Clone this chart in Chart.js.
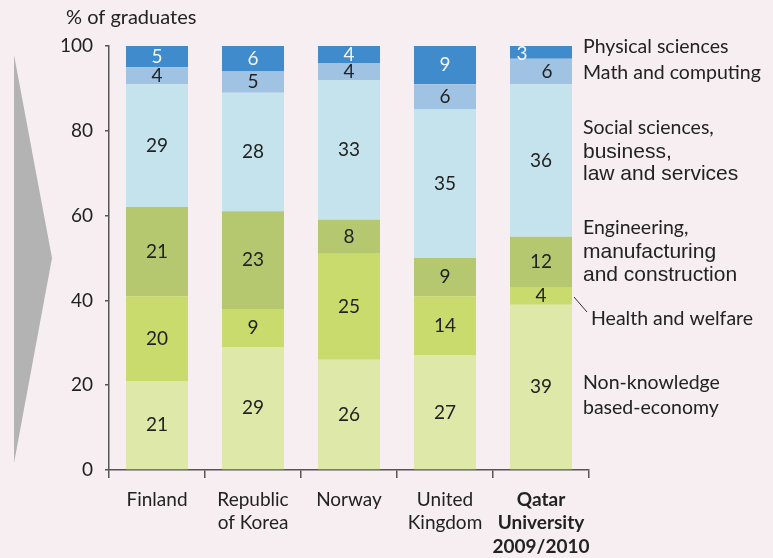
<!DOCTYPE html>
<html>
<head>
<meta charset="utf-8">
<script src="https://cdn.jsdelivr.net/npm/chart.js@4.4.1/dist/chart.umd.min.js"></script>
<style>
  html, body { margin: 0; padding: 0; background: #f6eef0; }
  #wrap { width: 773px; height: 558px; position: relative; }
</style>
</head>
<body>
<div id="wrap"><canvas id="chart"></canvas></div>
<script>
const categories = [['Finland'], ['Republic', 'of Korea'], ['Norway'], ['United', 'Kingdom'], ['Qatar', 'University', '2009/2010']];
const nonKnowledge = [21, 29, 26, 27, 39];
const health = [20, 9, 25, 14, 4];
const engineering = [21, 23, 8, 9, 12];
const social = [29, 28, 33, 35, 36];
const mathComputing = [4, 5, 4, 6, 6];
const physical = [5, 6, 4, 9, 3];
const yTicks = [0, 20, 40, 60, 80, 100];

const FONT = 'Lato, "Noto Sans", sans-serif';
const ARIAL = '"Liberation Sans", Arial, sans-serif';

const series = [
  { label: 'Non-knowledge based-economy', data: nonKnowledge, color: '#dde8a9', text: '#222' },
  { label: 'Health and welfare', data: health, color: '#c8db6c', text: '#222' },
  { label: 'Engineering, manufacturing and construction', data: engineering, color: '#b5c86f', text: '#222' },
  { label: 'Social sciences, business, law and services', data: social, color: '#c5e3ec', text: '#222' },
  { label: 'Math and computing', data: mathComputing, color: '#a0c3e3', text: '#222' },
  { label: 'Physical sciences', data: physical, color: '#3f8bcb', text: '#f2f6fb' }
];

// small nudges for the crowded labels in the last bar
const labelNudge = { '5-4': [-19, 2], '4-4': [6, 0] };

const bgPlugin = {
  id: 'bg',
  beforeDraw(chart) {
    const c = chart.ctx;
    c.save();
    c.fillStyle = '#f6eef0';
    c.fillRect(0, 0, chart.width, chart.height);
    // grey arrow shape on the left
    c.fillStyle = '#b3b3b3';
    c.beginPath();
    c.moveTo(14, 55);
    c.lineTo(52, 258);
    c.lineTo(14, 463);
    c.closePath();
    c.fill();
    c.restore();
  }
};

const labelPlugin = {
  id: 'labels',
  afterDatasetsDraw(chart) {
    const c = chart.ctx;
    c.save();
    c.font = '19px ' + FONT;
    c.textAlign = 'center';
    c.textBaseline = 'middle';
    chart.data.datasets.forEach((ds, di) => {
      chart.getDatasetMeta(di).data.forEach((bar, i) => {
        const n = labelNudge[di + '-' + i] || [0, 0];
        c.fillStyle = series[di].text;
        c.fillText(String(ds.data[i]), bar.x + n[0], (bar.y + bar.base) / 2 + n[1]);
      });
    });

    // axis title
    c.fillStyle = '#222';
    c.textAlign = 'left';
    c.font = '20px ' + FONT;
    c.fillText('% of graduates', 66, 18);

    // legend on the right
    const lx = 583;
    const lines = [
      ['Physical sciences', 47, FONT, lx],
      ['Math and computing', 73, FONT, lx],
      ['Social sciences,', 128, FONT, lx],
      ['business,', 152, ARIAL, lx],
      ['law and services', 174, ARIAL, lx],
      ['Engineering,', 228, FONT, lx],
      ['manufacturing', 252, ARIAL, lx],
      ['and construction', 275, ARIAL, lx],
      ['Health and welfare', 319, FONT, 591],
      ['Non-knowledge', 383, FONT, lx],
      ['based-economy', 408, FONT, lx]
    ];
    lines.forEach(([t, y, f, x]) => {
      c.font = (f === ARIAL ? '21px ' : '19.5px ') + f;
      c.fillText(t, x, y);
    });
    // leader line to Health and welfare
    c.strokeStyle = '#333';
    c.lineWidth = 1;
    c.beginPath();
    c.moveTo(574, 297);
    c.lineTo(587, 312);
    c.stroke();
    c.restore();
  }
};

new Chart(document.getElementById('chart'), {
  type: 'bar',
  data: {
    labels: categories,
    datasets: series.map(s => ({
      label: s.label,
      data: s.data,
      backgroundColor: s.color,
      borderWidth: 0,
      categoryPercentage: 1,
      barPercentage: 0.646
    }))
  },
  options: {
    responsive: true,
    maintainAspectRatio: false,
    animation: false,
    layout: { padding: { left: 0, top: 46, right: 184, bottom: 0 } },
    plugins: { legend: { display: false }, tooltip: { enabled: false } },
    scales: {
      x: {
        stacked: true,
        afterFit: s => { s.height = 88; },
        grid: { offset: true, drawOnChartArea: false, tickLength: 8, color: '#555', lineWidth: 1.5 },
        border: { color: '#555', width: 1.5 },
        ticks: {
          color: '#222',
          padding: 10,
          maxRotation: 0,
          autoSkip: false,
          font: ctx => ({ family: FONT, size: 19, weight: ctx.index === 4 ? 'bold' : 'normal', lineHeight: 1.24 })
        }
      },
      y: {
        stacked: true,
        min: 0,
        max: 100,
        afterFit: s => { s.width = 109; },
        afterBuildTicks: s => { s.ticks = yTicks.map(v => ({ value: v })); },
        grid: { drawOnChartArea: false, tickLength: 4, color: '#555', lineWidth: 1.5 },
        border: { color: '#555', width: 1.5 },
        ticks: { color: '#222', padding: 12, font: { family: FONT, size: 19 } }
      }
    }
  },
  plugins: [bgPlugin, labelPlugin]
});
</script>
</body>
</html>
